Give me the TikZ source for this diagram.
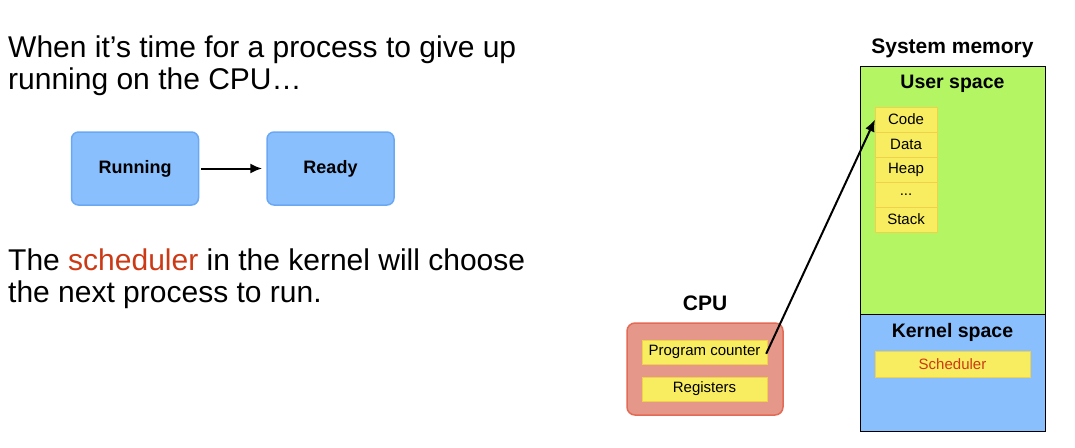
\documentclass[tikz,border=0pt]{standalone}
\usepackage{fontspec}
\setmainfont{Liberation Sans}
\usetikzlibrary{arrows.meta,positioning}

\definecolor{stateblue}{HTML}{8ABFFD}
\definecolor{stateedge}{HTML}{6AA8F4}
\definecolor{cpufill}{HTML}{E5978A}
\definecolor{cpuedge}{HTML}{E36A55}
\definecolor{cellfill}{HTML}{F8EC60}
\definecolor{celledge}{HTML}{EFD24A}
\definecolor{userfill}{HTML}{B3F562}
\definecolor{schedred}{HTML}{CC3A15}

\tikzset{
    state/.style={draw=stateedge,fill=stateblue,rounded corners=7pt,line width=1.5pt,minimum width=127pt,minimum height=73pt,font=\bfseries\fontsize{18}{20}\selectfont},
    cell/.style={draw=celledge,fill=cellfill,line width=1pt,inner sep=0pt,outer sep=0pt,font=\fontsize{15}{17}\selectfont},
    heading/.style={inner sep=0pt,font=\bfseries\fontsize{19.5}{22}\selectfont},
    bigtext/.style={anchor=base west,inner sep=0pt,font=\fontsize{30}{32}\selectfont},
    region/.style={draw=black,line width=0.8pt,minimum width=185pt,inner sep=0pt},
    pointer/.style={-{Latex[length=12pt,width=10pt]},line width=2pt}
}

\begin{document}
\begin{tikzpicture}[x=1pt,y=-1pt]
        \useasboundingbox (0,0) rectangle (1075,447);

        % Left side text
        \node[bigtext] (intro1) at (8,57) {When it’s time for a process to give up};
        \node[bigtext] (intro2) at (8,89) {running on the CPU…};
        \node[bigtext] (outro1) at (8,270) {The \textcolor{schedred}{scheduler} in the kernel will choose};
        \node[bigtext] (outro2) at (8,302) {the next process to run.};

        % Process states
        \node[state] (running) at (135,168.5) {Running};
        \node[state] (ready) at (330.5,168.5) {Ready};
        \draw[pointer,shorten <=2pt,shorten >=4pt] (running) -- (ready);

        % CPU
        \node[heading,font=\bfseries\fontsize{21}{23}\selectfont] (cpulabel) at (705,303) {CPU};
        \node[draw=cpuedge,fill=cpufill,line width=1.5pt,rounded corners=8pt,minimum width=156pt,minimum height=92pt] (cpu) at (705,369) {};
        \node[cell,minimum width=125pt,minimum height=24pt] (pc) at (704.5,352) {Program counter};
        \node[cell,minimum width=125pt,minimum height=24pt] (regs) at (704.5,389) {Registers};

        % System memory
        \node[heading,font=\bfseries\fontsize{21}{23}\selectfont] (memlabel) at (952.5,48) {System memory};
        \node[region,fill=userfill,minimum height=248pt] (user) at (952.5,190) {};
        \node[region,fill=stateblue,minimum height=117pt] (kernel) at (952.5,372.5) {};
        \node[heading] (userlabel) at (952.5,84) {User space};
        \node[heading] (kernellabel) at (952.5,332) {Kernel space};

        % Process memory layout
        \node[cell,minimum width=62pt,minimum height=25pt] (code) at (906,119.5) {Code};
        \node[cell,minimum width=62pt,minimum height=25pt,below=0pt of code] (data) {Data};
        \node[cell,minimum width=62pt,minimum height=25pt,below=0pt of data] (heap) {Heap};
        \node[cell,minimum width=62pt,minimum height=25pt,below=0pt of heap] (dots) {...};
        \node[cell,minimum width=62pt,minimum height=25pt,below=0pt of dots] (stack) {Stack};

        % Scheduler
        \node[cell,minimum width=155pt,minimum height=26pt,text=schedred] (sched) at (952.5,364) {Scheduler};

        % Program counter points at code
        \draw[pointer,shorten <=-2pt] (pc.east) -- (code.west);
\end{tikzpicture}
\end{document}
